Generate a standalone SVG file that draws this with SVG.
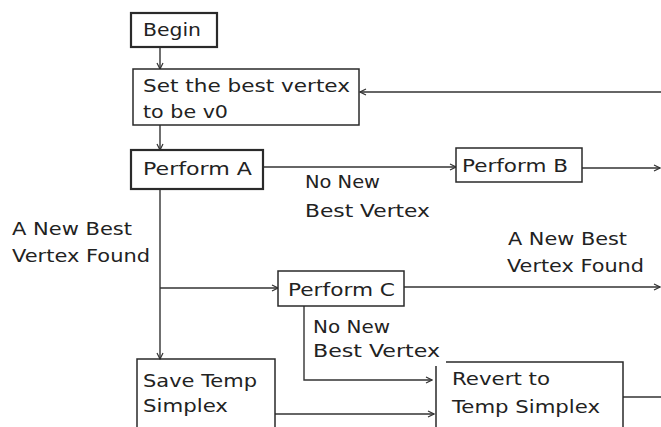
<svg xmlns="http://www.w3.org/2000/svg" width="661" height="427" viewBox="0 0 661 427">
<defs>
<style>
.box{fill:#fff;stroke:#2a2a2a;stroke-width:1.5}
.thick{stroke-width:2.2}
.open{fill:none;stroke:#2a2a2a;stroke-width:1.5}
.ln{fill:none;stroke:#333;stroke-width:1.4}
text{font-family:"DejaVu Sans","Liberation Sans",sans-serif;font-size:18px;fill:#222}
</style>
<marker id="ah" viewBox="0 0 8 8" refX="7" refY="4" markerWidth="8" markerHeight="8" markerUnits="userSpaceOnUse" orient="auto">
<path d="M1,1 L7,4 L1,7" fill="none" stroke="#333" stroke-width="1.2"/>
</marker>
</defs>
<rect width="661" height="427" fill="#fff"/>
<g id="connectors">
<line class="ln" x1="160" y1="47" x2="160" y2="69" marker-end="url(#ah)"/>
<line class="ln" x1="160" y1="125" x2="160" y2="150" marker-end="url(#ah)"/>
<line class="ln" x1="263" y1="167" x2="456" y2="167" marker-end="url(#ah)"/>
<line class="ln" x1="582" y1="168" x2="660" y2="168" marker-end="url(#ah)"/>
<line class="ln" x1="661" y1="92" x2="360" y2="92" marker-end="url(#ah)"/>
<line class="ln" x1="160" y1="189" x2="160" y2="359" marker-end="url(#ah)"/>
<line class="ln" x1="160" y1="288" x2="278" y2="288" marker-end="url(#ah)"/>
<line class="ln" x1="404" y1="287" x2="660" y2="287" marker-end="url(#ah)"/>
<polyline class="ln" points="304,306 304,380 432,380" marker-end="url(#ah)"/>
<line class="ln" x1="275" y1="414" x2="434" y2="414" marker-end="url(#ah)"/>
<line class="ln" x1="623" y1="397" x2="661" y2="397"/>
</g>
<g id="begin">
<rect class="box thick" x="131" y="13" width="86" height="34"/>
<text x="143" y="36" textLength="58" lengthAdjust="spacingAndGlyphs">Begin</text>
</g>
<g id="set-best">
<rect class="box" x="133" y="69" width="226" height="56"/>
<text x="143" y="92" textLength="207" lengthAdjust="spacingAndGlyphs">Set the best vertex</text>
<text x="143" y="118" textLength="85" lengthAdjust="spacingAndGlyphs">to be v0</text>
</g>
<g id="perform-a">
<rect class="box thick" x="131" y="150" width="132" height="39"/>
<text x="143" y="175" textLength="109" lengthAdjust="spacingAndGlyphs">Perform A</text>
</g>
<g id="perform-b">
<rect class="box" x="456" y="148" width="126" height="34"/>
<text x="462" y="172" textLength="106" lengthAdjust="spacingAndGlyphs">Perform B</text>
</g>
<g id="perform-c">
<rect class="box" x="278" y="271" width="126" height="35"/>
<text x="288" y="296" textLength="107" lengthAdjust="spacingAndGlyphs">Perform C</text>
</g>
<g id="save-temp">
<path class="open" d="M137,427 V359 H275 V427"/>
<text x="143" y="387" textLength="114" lengthAdjust="spacingAndGlyphs">Save Temp</text>
<text x="143" y="412" textLength="85" lengthAdjust="spacingAndGlyphs">Simplex</text>
</g>
<g id="revert">
<path class="open" d="M446,362 H623 V427 M436,366 V427"/>
<text x="452" y="385" textLength="98" lengthAdjust="spacingAndGlyphs">Revert to</text>
<text x="452" y="413" textLength="148" lengthAdjust="spacingAndGlyphs">Temp Simplex</text>
</g>
<g id="labels">
<text x="305" y="188" textLength="75" lengthAdjust="spacingAndGlyphs">No New</text>
<text x="305" y="217" textLength="125" lengthAdjust="spacingAndGlyphs">Best Vertex</text>
<text x="12" y="235" textLength="120" lengthAdjust="spacingAndGlyphs">A New Best</text>
<text x="12" y="262" textLength="138" lengthAdjust="spacingAndGlyphs">Vertex Found</text>
<text x="508" y="245" textLength="119" lengthAdjust="spacingAndGlyphs">A New Best</text>
<text x="507" y="272" textLength="137" lengthAdjust="spacingAndGlyphs">Vertex Found</text>
<text x="313" y="333" textLength="77" lengthAdjust="spacingAndGlyphs">No New</text>
<text x="313" y="357" textLength="127" lengthAdjust="spacingAndGlyphs">Best Vertex</text>
</g>
</svg>
